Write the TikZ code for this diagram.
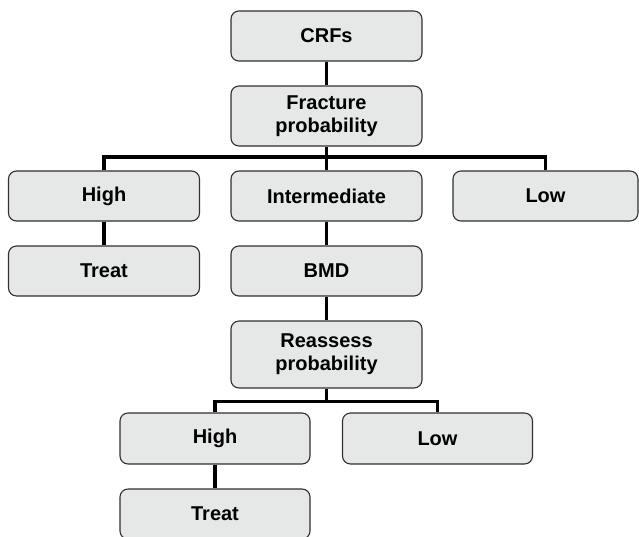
\documentclass[tikz,border=0pt]{standalone}
\usepackage{fontspec}
\setmainfont{Liberation Sans}
\definecolor{boxgray}{HTML}{E6E7E7}
\definecolor{edgegray}{HTML}{303030}
\tikzset{
  box/.style={draw=edgegray, fill=boxgray, rounded corners=8pt, line width=1.1pt,
    minimum width=191pt, minimum height=50pt, inner sep=0pt, align=center,
    font=\fontsize{20}{23}\selectfont\bfseries},
  conn/.style={line width=3.2pt, black}
}
\begin{document}
\begin{tikzpicture}[x=1pt,y=-1pt]
\useasboundingbox (0,0) rectangle (639,536);
\node[box] (crf) at (326.5,36) {CRFs};
\node[box, minimum height=60pt] (frac) at (326.5,116) {Fracture\\probability};
\node[box] (high) at (104,196) {High};
\node[box] (inter) at (326.5,196) {Intermediate};
\node[box, minimum width=185pt] (low) at (545.5,196) {Low};
\node[box] (treat) at (104,271) {Treat};
\node[box] (bmd) at (326.5,271) {BMD};
\node[box, minimum height=67pt] (reas) at (326.5,354.5) {Reassess\\probability};
\node[box, minimum width=190pt, minimum height=51pt] (high2) at (215,438.5) {High};
\node[box, minimum width=190pt, minimum height=51pt] (low2) at (437.5,438.5) {Low};
\node[box, minimum width=190pt] (treat2) at (215,514) {Treat};
\coordinate (b1) at (326.5,157);
\coordinate (b2) at (326.5,401.5);
\draw[conn] (crf) -- (frac);
\draw[conn] (frac) -- (b1);
\draw[conn, line join=miter] (high.north) -- (high.north |- b1) -- (low.north |- b1) -- (low.north);
\draw[conn] (b1) -- (inter);
\draw[conn] (high) -- (treat);
\draw[conn] (inter) -- (bmd);
\draw[conn] (bmd) -- (reas);
\draw[conn] (reas) -- (b2);
\draw[conn, line join=miter] (high2.north) -- (high2.north |- b2) -- (low2.north |- b2) -- (low2.north);
\draw[conn] (high2) -- (treat2);
\end{tikzpicture}
\end{document}
